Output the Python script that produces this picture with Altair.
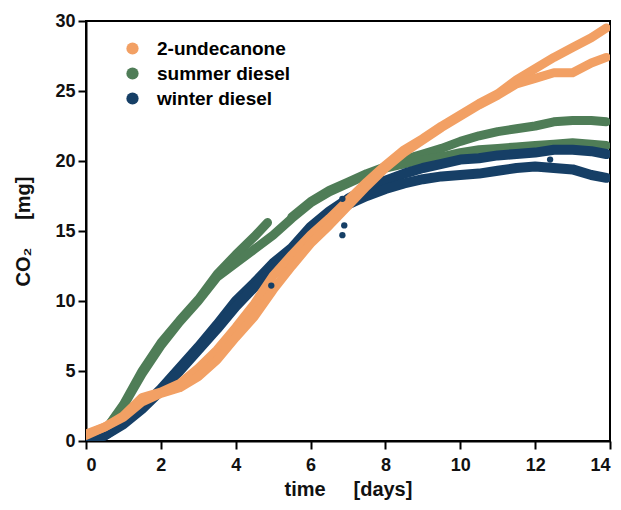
import altair as alt
import pandas as pd

SERIES = ["2-undecanone", "summer diesel", "winter diesel"]
COLORS = ["#F2A064", "#4F7D57", "#163F66"]

# time grid (days) for replicate readings
T = [0, 0.5, 1, 1.5, 2, 2.5, 3, 3.5, 4, 4.5, 5, 5.5, 6, 6.5, 7, 7.5, 8, 8.5,
     9, 9.5, 10, 10.5, 11, 11.5, 12, 12.5, 13, 13.5, 13.9]

undec_a = [0.5, 1.0, 1.8, 3.1, 3.5, 4.1, 5.2, 6.5, 8.1, 9.8, 11.8, 13.3, 14.7, 15.9,
           17.2, 18.5, 19.7, 20.8, 21.6, 22.5, 23.3, 24.1, 24.8, 25.8, 26.6, 27.4,
           28.1, 28.8, 29.5]
undec_b = [0.4, 1.0, 1.7, 2.8, 3.4, 3.8, 4.6, 5.8, 7.4, 8.9, 10.8, 12.5, 14.1, 15.4,
           16.8, 18.2, 19.5, 20.6, 21.5, 22.4, 23.2, 24.0, 24.7, 25.5, 25.9, 26.3,
           26.3, 27.0, 27.4]

winter_a = [0.0, 0.4, 1.3, 2.4, 3.7, 5.2, 6.7, 8.3, 10.0, 11.3, 12.7, 13.8, 15.3, 16.4,
            17.3, 18.0, 18.6, 19.1, 19.5, 19.8, 20.1, 20.2, 20.4, 20.5, 20.6, 20.8,
            20.8, 20.7, 20.5]
winter_b = [0.0, 0.4, 1.2, 2.3, 3.6, 5.0, 6.5, 8.0, 9.6, 11.0, 12.3, 13.5, 15.0, 16.1,
            16.9, 17.5, 18.0, 18.4, 18.7, 18.9, 19.0, 19.1, 19.3, 19.5, 19.6, 19.5,
            19.4, 19.0, 18.8]

summer_b = [0.1, 0.7, 2.5, 4.8, 6.8, 8.5, 10.0, 11.7, 12.7, 13.7, 14.7, 15.9, 17.0, 17.8,
            18.4, 19.0, 19.5, 19.8, 20.1, 20.3, 20.6, 20.8, 20.9, 21.0, 21.1, 21.2,
            21.3, 21.2, 21.1]
# summer diesel replicate A: early segment (ends near day 4.85) and later segment
summer_a1_t = [0, 0.5, 1, 1.5, 2, 2.5, 3, 3.5, 4, 4.5, 4.85]
summer_a1 = [0.1, 0.7, 2.6, 5.0, 7.0, 8.6, 10.1, 11.9, 13.3, 14.6, 15.6]
summer_a2_t = [5.5, 6, 6.5, 7, 7.5, 8, 8.5, 9, 9.5, 10, 10.5, 11, 11.5, 12, 12.5,
               13, 13.5, 13.9]
summer_a2 = [16.0, 17.1, 17.9, 18.5, 19.1, 19.6, 20.1, 20.5, 20.9, 21.4, 21.8,
             22.1, 22.3, 22.5, 22.8, 22.9, 22.9, 22.8]

# isolated winter diesel points
out_t = [4.95, 6.85, 6.85, 6.9, 12.4]
out_v = [11.1, 14.7, 17.3, 15.4, 20.1]

rows = []
def add(series, rep, ts, vs):
    for t, v in zip(ts, vs):
        rows.append({"t": t, "v": v, "series": series, "rep": rep})

add("summer diesel", "a1", summer_a1_t, summer_a1)
add("summer diesel", "a2", summer_a2_t, summer_a2)
add("summer diesel", "b", T, summer_b)
add("winter diesel", "a", T, winter_a)
add("winter diesel", "b", T, winter_b)
add("2-undecanone", "a", T, undec_a)
add("2-undecanone", "b", T, undec_b)
df = pd.DataFrame(rows)

pts = pd.DataFrame({"t": out_t, "v": out_v, "series": ["winter diesel"] * len(out_t)})
legend_df = pd.DataFrame({"t": [-5.0] * 3, "v": [-5.0] * 3, "series": SERIES})

FONT = "Liberation Sans"
color_scale = alt.Scale(domain=SERIES, range=COLORS)
NB = "\u00a0"

x = alt.X("t:Q", scale=alt.Scale(domain=[0, 14]),
          axis=alt.Axis(values=list(range(0, 15, 2)), labelPadding=7,
                        title="time" + NB * 5 + "[days]", titlePadding=5))
y = alt.Y("v:Q", scale=alt.Scale(domain=[0, 30]),
          axis=alt.Axis(values=list(range(0, 31, 5)), labelPadding=3,
                        title="CO₂" + NB * 5 + "[mg]", titlePadding=21))

layers = []
for s, w in [("summer diesel", 9), ("winter diesel", 10), ("2-undecanone", 9)]:
    layers.append(
        alt.Chart(df[df.series == s]).mark_line(strokeWidth=w, strokeCap="round",
                                                strokeJoin="round", clip=True)
        .encode(x=x, y=y, detail="rep:N", order="t:Q",
                color=alt.Color("series:N", scale=color_scale, legend=None))
    )

dots = alt.Chart(pts).mark_circle(size=40, opacity=1).encode(
    x=x, y=y, color=alt.Color("series:N", scale=color_scale, legend=None))

legend_layer = alt.Chart(legend_df).mark_circle(size=140, opacity=1, clip=True).encode(
    x=x, y=y,
    color=alt.Color("series:N", scale=color_scale,
                    legend=alt.Legend(title=None, orient="none", legendX=37, legendY=18,
                                      symbolType="circle", symbolSize=150,
                                      labelFontSize=19, labelFont=FONT,
                                      labelFontWeight="bold", rowPadding=5,
                                      symbolOffset=0, labelOffset=15)))

chart = alt.layer(*layers, dots, legend_layer).resolve_scale(
    color="independent"
).properties(
    width=524, height=420,
    autosize=alt.AutoSizeParams(type="none"),
    padding={"left": 78, "top": 13, "right": 3, "bottom": 61},
).configure_view(stroke="black", strokeWidth=2).configure_axis(
    domainColor="black", domainWidth=2, tickColor="black", tickWidth=2, tickSize=8,
    grid=False, labelFont=FONT, labelFontSize=18, labelFontWeight="bold",
    labelColor="#111", titleFont=FONT, titleFontSize=20, titleFontWeight="bold",
    titleColor="#111"
)

chart.save("out.html", embed_options={"renderer": "svg", "actions": False})
